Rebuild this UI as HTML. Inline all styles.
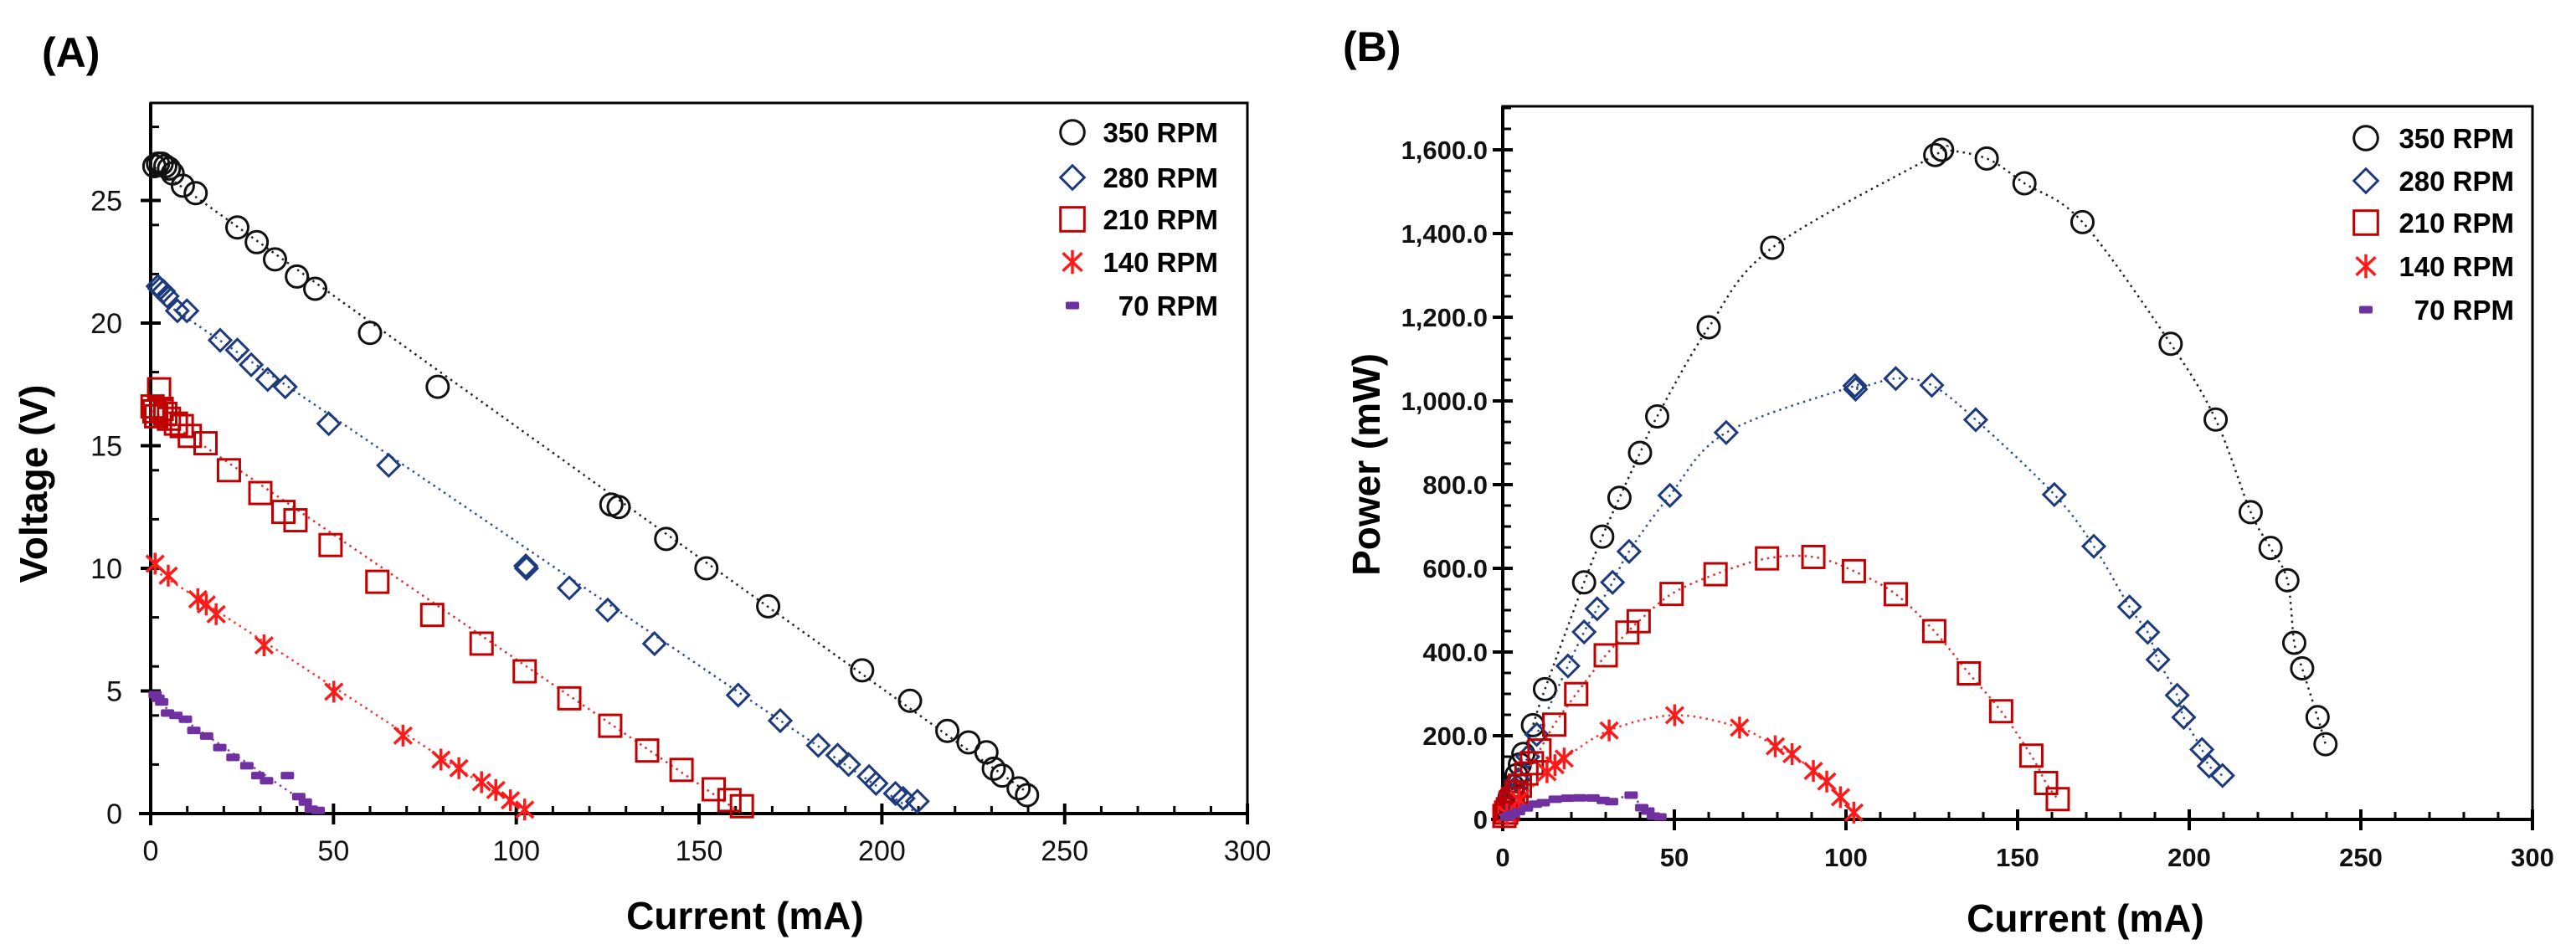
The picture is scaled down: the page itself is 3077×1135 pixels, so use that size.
<!DOCTYPE html>
<html><head><meta charset="utf-8"><style>
html,body{margin:0;padding:0;background:#fff;}
svg{display:block;font-family:"Liberation Sans",Arial,sans-serif;}
</style></head><body>
<svg id="fig" width="3077" height="1135" viewBox="0 0 3077 1135" xmlns="http://www.w3.org/2000/svg">
<g id="panelA"></g>
<g id="panelB"></g>
</svg>
<script>
// ---- Data ----
const seriesNames = ["350 RPM","280 RPM","210 RPM","140 RPM","70 RPM"];
const cur350 = [1,2,3,4,5,6,8.8,12.3,23.7,29,34,40,45,60,78.5,126,128,141,152,168.9,194.6,207.7,217.9,223.7,228.6,230.6,232.9,237.4,239.7];
const volt350 = [26.4,26.5,26.5,26.4,26.3,26.1,25.6,25.3,23.9,23.3,22.6,21.9,21.4,19.6,17.4,12.6,12.5,11.2,10.0,8.45,5.84,4.6,3.37,2.9,2.5,1.83,1.55,1.03,0.75];
const cur280 = [2,2.5,3.5,4.5,7.3,9.9,19,23.7,27.5,32,36.8,48.7,65.1,102.6,102.8,114.5,125,137.8,160.7,172.2,182.6,187.9,190.9,196.5,198.4,203.7,205.8,209.7];
const volt280 = [21.5,21.4,21.3,21.1,20.5,20.5,19.3,18.9,18.3,17.7,17.4,15.9,14.2,10.1,10.0,9.2,8.3,6.93,4.83,3.79,2.78,2.38,2.0,1.51,1.23,0.82,0.62,0.5];
const cur210 = [0.5,1,1.5,2.3,3,4,5,6.9,8.5,10.7,15,21.4,30,36.3,39.6,49.2,62,77,90.5,102.3,114.5,125.7,135.8,145.2,154,158.3,161.7];
const volt210 = [16.6,16.4,16.2,17.3,16.5,16.3,16.1,15.9,15.8,15.4,15.1,14.0,13.07,12.3,11.96,10.95,9.45,8.1,6.93,5.8,4.7,3.58,2.57,1.78,0.99,0.55,0.3];
const cur140 = [1.2,4.8,12.9,15.2,17.9,31,50.1,69,79.4,84.3,90.5,94.4,98.4,102.3];
const volt140 = [10.19,9.7,8.74,8.53,8.13,6.86,4.97,3.18,2.2,1.85,1.28,0.96,0.54,0.16];
const cur70 = [1.2,2,3,4.6,6.9,9.5,11.8,15.3,18.9,22.5,26.3,29.3,31.7,37.4,40.5,42.3,43.9,45.8];
const volt70 = [4.85,4.7,4.55,4.1,4.0,3.85,3.39,3.16,2.69,2.29,1.95,1.55,1.34,1.55,0.69,0.47,0.18,0.13];
const xTicks = [0,50,100,150,200,250,300];
const yTicksA = [0,5,10,15,20,25];
const yTicksB = [0,200,400,600,800,1000,1200,1400,1600];

const NS="http://www.w3.org/2000/svg";
function mk(tag, attrs, parent){const e=document.createElementNS(NS,tag);for(const k in attrs)e.setAttribute(k,attrs[k]);parent.appendChild(e);return e;}

const styles=[
 {shape:"circle", color:"#111111", line:"#222222"},
 {shape:"diamond",color:"#1c3a7d", line:"#2a4f9a"},
 {shape:"square", color:"#c00000", line:"#e03030"},
 {shape:"star",   color:"#ff1a1a", line:"#ff3030"},
 {shape:"dash",   color:"#7030a0", line:"#8040b0"}
];

function marker(g, shape, color, cx, cy, s){
  s = s||1;
  let e;
  if(shape==="circle"){ e=mk("circle",{cx:cx,cy:cy,r:13*s,fill:"none",stroke:color,"stroke-width":3},g); }
  else if(shape==="diamond"){ const h=13*s; e=mk("polygon",{points:`${cx},${cy-h} ${cx+h},${cy} ${cx},${cy+h} ${cx-h},${cy}`,fill:"none",stroke:color,"stroke-width":3},g); }
  else if(shape==="square"){ const h=13*s; e=mk("rect",{x:cx-h,y:cy-h,width:2*h,height:2*h,fill:"none",stroke:color,"stroke-width":3},g); }
  else if(shape==="star"){ const h=13*s; e=mk("path",{d:`M${cx},${cy-h}V${cy+h}M${cx-h*0.8},${cy-h*0.75}L${cx+h*0.8},${cy+h*0.75}M${cx+h*0.8},${cy-h*0.75}L${cx-h*0.8},${cy+h*0.75}`,fill:"none",stroke:color,"stroke-width":3.5},g); }
  else { e=mk("rect",{x:cx-8,y:cy-4.5,width:16,height:9,rx:2,fill:color},g); }
  return e;
}

function linfit(xs,ys){const n=xs.length;let sx=0,sy=0,sxx=0,sxy=0;for(let i=0;i<n;i++){sx+=xs[i];sy+=ys[i];sxx+=xs[i]*xs[i];sxy+=xs[i]*ys[i];}
 const b=(n*sxy-sx*sy)/(n*sxx-sx*sx);return {a:(sy-b*sx)/n,b:b};}

function smoothPath(pts){
  if(pts.length<2) return "";
  let d="M"+pts[0][0].toFixed(1)+","+pts[0][1].toFixed(1);
  for(let i=0;i<pts.length-1;i++){
    const p0=pts[Math.max(i-1,0)], p1=pts[i], p2=pts[i+1], p3=pts[Math.min(i+2,pts.length-1)];
    const c1x=p1[0]+(p2[0]-p0[0])/6, c1y=p1[1]+(p2[1]-p0[1])/6;
    const c2x=p2[0]-(p3[0]-p1[0])/6, c2y=p2[1]-(p3[1]-p1[1])/6;
    d+="C"+c1x.toFixed(1)+","+c1y.toFixed(1)+" "+c2x.toFixed(1)+","+c2y.toFixed(1)+" "+p2[0].toFixed(1)+","+p2[1].toFixed(1);
  }
  return d;
}

function drawPanel(g, cfg){
  const X=v=>cfg.x0+v*cfg.kx, Y=v=>cfg.y0-v*cfg.ky;
  const frame=mk("path",{d:`M${cfg.x0},${cfg.y0}V${cfg.top}H${cfg.right}V${cfg.y0}`,fill:"none",stroke:"#000","stroke-width":3},g);
  
  
  const xa=mk("line",{x1:cfg.x0-14,y1:cfg.y0,x2:cfg.right,y2:cfg.y0,stroke:"#000","stroke-width":4},g);
  
  
  const ya=mk("line",{x1:cfg.x0,y1:cfg.y0+14,x2:cfg.x0,y2:cfg.top,stroke:"#000","stroke-width":4},g);
  
  
  for(let v=10; v<300; v+=10){ if(v%50===0) continue; mk("line",{x1:X(v),y1:cfg.y0,x2:X(v),y2:cfg.y0-9,stroke:"#000","stroke-width":3},g); }
  xTicks.forEach(v=>{
    mk("line",{x1:X(v),y1:cfg.y0-12,x2:X(v),y2:cfg.y0+13,stroke:"#000","stroke-width":4},g);
    const t=mk("text",{x:X(v),y:cfg.xLabelY,"text-anchor":"middle","font-size":cfg.tickFont,"font-weight":cfg.tickWeight,fill:"#111"},g);
    t.textContent=v;
    
    
  });
  cfg.yMinor.forEach(v=>{ mk("line",{x1:cfg.x0,y1:Y(v),x2:cfg.x0+10,y2:Y(v),stroke:"#000","stroke-width":3},g); });
  cfg.yTicks.forEach(v=>{
    mk("line",{x1:cfg.x0-12,y1:Y(v),x2:cfg.x0+12,y2:Y(v),stroke:"#000","stroke-width":4},g);
    const t=mk("text",{x:cfg.yLabelX,y:Y(v)+cfg.tickFont*0.36,"text-anchor":"end","font-size":cfg.tickFont,"font-weight":cfg.tickWeight,fill:"#111"},g);
    t.textContent=cfg.fmt(v);
    
    
  });
  const xt=mk("text",{x:cfg.xTitleX,y:cfg.xTitleY,"text-anchor":"middle","font-size":46,"font-weight":"bold",fill:"#000"},g);
  xt.textContent="Current (mA)";
  
  
  const yt=mk("text",{x:0,y:0,"text-anchor":"middle","font-size":46,"font-weight":"bold",fill:"#000",transform:`translate(${cfg.yTitleX},${cfg.yTitleY}) rotate(-90)`},g);
  yt.textContent=cfg.yTitle;
  
  
  const pl=mk("text",{x:cfg.labelX,y:cfg.labelY,"font-size":50,"font-weight":"bold",fill:"#000"},g);
  pl.textContent=cfg.label;
  
  
  cfg.series.forEach((s,i)=>{
    const st=styles[i];
    const sg=mk("g",{},g);
    
    
    let d="";
    if(!cfg.power){
      const f=linfit(s.x, s.v);
      const xmin=Math.min(...s.x), xmax=Math.max(...s.x);
      d="M"+X(xmin).toFixed(1)+","+Y(f.a+f.b*xmin).toFixed(1)+"L"+X(xmax).toFixed(1)+","+Y(Math.max(f.a+f.b*xmax,0)).toFixed(1);
    } else {
      const idx=s.x.map((_,k)=>k).sort((a,b)=>s.x[a]-s.x[b]);
      d=smoothPath(idx.map(k=>[X(s.x[k]), Y(s.x[k]*s.v[k])]));
    }
    const fl=mk("path",{d:d,fill:"none",stroke:st.line,"stroke-width":2.5,"stroke-dasharray":"2.5 5","stroke-linejoin":"round"},sg);
    
    
    for(let j=0;j<s.x.length;j++){
      const yv = cfg.power ? s.x[j]*s.v[j] : s.v[j];
      const m=marker(sg, st.shape, st.color, X(s.x[j]), Y(yv), 1);
      
      
    }
  });
  const lg=mk("g",{},g);
  
  
  seriesNames.forEach((nm,i)=>{
    const cy=cfg.legY[i];
    const e=mk("g",{},lg);
    
    
    marker(e, styles[i].shape, styles[i].color, cfg.legMX, cy, 1.1);
    const t=mk("text",{x:cfg.legTX,y:cy+12,"text-anchor":"end","font-size":33,"font-weight":"bold",fill:"#000"},e);
    t.textContent=nm;
  });
}

const seriesData=[
  {x:cur350,v:volt350},{x:cur280,v:volt280},{x:cur210,v:volt210},{x:cur140,v:volt140},{x:cur70,v:volt70}
];
const minorA=[]; for(let v=2; v<=28; v+=2){ if(v%5!==0) minorA.push(v); }
const minorB=[]; for(let v=50; v<=1700; v+=50){ if(v%200!==0) minorB.push(v); }

drawPanel(document.getElementById('panelA'),{
  x0:180,kx:4.367,y0:972,ky:29.3,top:123,right:1490,
  yTicks:yTicksA,yMinor:minorA,fmt:v=>String(v),
  tickFont:34,tickWeight:"normal",xLabelY:1028,yLabelX:146,
  xTitleX:890,xTitleY:1110,yTitleX:56,yTitleY:578,yTitle:"Voltage (V)",
  label:"(A)",labelX:50,labelY:80,
  series:seriesData,power:false,
  legY:[158,212,262,313,365],legMX:1281,legTX:1455
});
drawPanel(document.getElementById('panelB'),{
  x0:1795,kx:4.1,y0:979,ky:0.5,top:127,right:3025,
  yTicks:yTicksB,yMinor:minorB,fmt:v=>v===0?"0":v.toLocaleString('en-US')+".0",
  tickFont:31,tickWeight:"bold",xLabelY:1035,yLabelX:1777,
  xTitleX:2491,xTitleY:1113,yTitleX:1648,yTitleY:555,yTitle:"Power (mW)",
  label:"(B)",labelX:1604,labelY:73,
  series:seriesData,power:true,
  legY:[165,216,266,318,370],legMX:2826,legTX:3003
});
</script>
</body></html>
